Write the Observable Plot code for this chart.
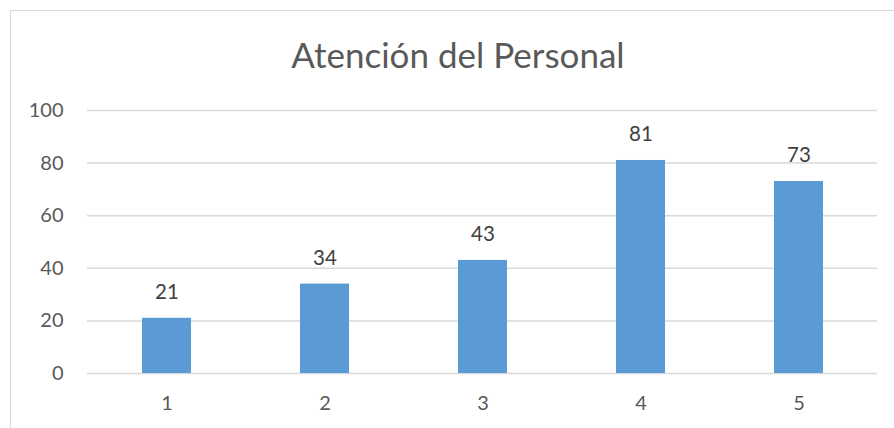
<!DOCTYPE html>
<html>
<head>
<meta charset="utf-8">
<script src="https://cdn.jsdelivr.net/npm/d3@7"></script>
<script src="https://cdn.jsdelivr.net/npm/@observablehq/plot@0.6"></script>
<style>
  html, body { margin: 0; padding: 0; background: #fff; }
  #wrap { position: relative; width: 894px; height: 428px; overflow: hidden; font-family: Lato, "Open Sans", sans-serif; }
  #frame { position: absolute; left: 10px; top: 10px; width: 900px; height: 430px; border-left: 1.5px solid #d9d9d9; border-top: 1.5px solid #d9d9d9; }
  #title { position: absolute; left: 0; width: 916px; top: 34px; text-align: center; font-size: 35px; color: #595959; line-height: 40px; }
  #chart { position: absolute; left: 0; top: 0; }
</style>
</head>
<body>
<div id="wrap">
  <div id="frame"></div>
  <div id="title">Atención del Personal</div>
  <div id="chart"></div>
</div>
<script>
const categories = ["1", "2", "3", "4", "5"];
const values = [21, 34, 43, 81, 73];
const yTicks = [0, 20, 40, 60, 80, 100];

const data = categories.map((c, i) => ({cat: c, value: values[i]}));

const plot = Plot.plot({
  width: 894,
  height: 428,
  marginLeft: 87,
  marginRight: 17,
  marginTop: 110,
  marginBottom: 55,
  style: {fontFamily: "Lato, 'Open Sans', sans-serif", background: "transparent", overflow: "visible"},
  x: {domain: categories, paddingInner: 0.69, paddingOuter: 0.345, label: null},
  y: {domain: [0, 100], ticks: yTicks, label: null},
  marks: [
    Plot.ruleY(yTicks, {stroke: "#d9d9d9", strokeWidth: 1.5}),
    Plot.barY(data, {x: "cat", y: "value", fill: "#5b9bd5"}),
    Plot.text(data, {x: "cat", y: "value", text: d => String(d.value), dy: -26, fontSize: 20.5, fill: "#404040"}),
    Plot.axisY({ticks: yTicks, tickSize: 0, tickPadding: 24, fontSize: 20, color: "#595959"}),
    Plot.axisX({tickSize: 0, tickPadding: 22, fontSize: 20, color: "#595959"})
  ]
});
document.getElementById("chart").appendChild(plot);
</script>
</body>
</html>
